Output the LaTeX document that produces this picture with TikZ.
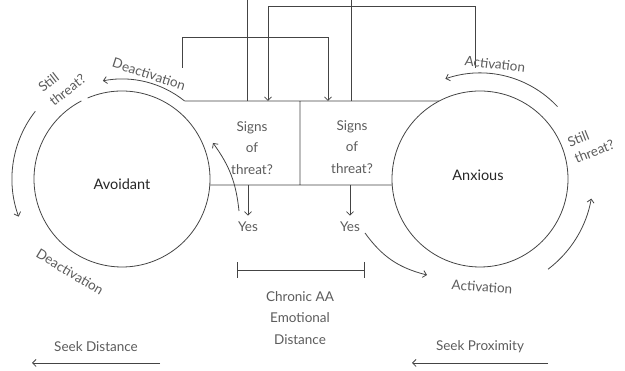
\documentclass[tikz,border=0pt]{standalone}
\usepackage{fontspec}
\setmainfont{Lato}
\usetikzlibrary{arrows.meta}
\definecolor{ink}{HTML}{444444}
\definecolor{txt}{HTML}{5C5C5C}
\begin{document}
\begin{tikzpicture}[x=1pt, y=1pt, font=\fontsize{13.5}{15}\selectfont, >={Straight Barb[length=3.5pt,width=7pt]},
	line width=0.8pt, color=ink,
	lbl/.style={text=txt, inner sep=0pt},
	stack/.style={lbl, align=center, font=\fontsize{13.5}{21.5}\selectfont},
	pair/.style={lbl, align=left, font=\fontsize{13.5}{18}\selectfont},
	state/.style={text=black!85, font=\fontsize{14.5}{16}\selectfont}]
	\useasboundingbox (0,0) rectangle (625,371);
	\path (122,192) coordinate (L) (480,192) coordinate (R)
	(L) ++(51.3:100) coordinate (T0) (R) ++(117.6:88) coordinate (T1)
	(L) ++(-3.9:88) coordinate (B0) (R) ++(183.9:88) coordinate (B1)
	(300,270) coordinate (M0) (300,186) coordinate (M1);
	% the two states
	\node[state] (avoid) at (122,187) {Avoidant};
	\node[state] (anx) at (478,196) {Anxious};
	\draw (L) ++(117.5:88) arc[start angle=117.5, end angle=473, radius=88];
	\draw (R) circle (88);
	% the threat check boxes
	\draw (T0)--(T1) (B0)--(B1) (M0)--(M1);
	\node[stack] (sL) at (252,223) {Signs\\of\\threat?};
	\node[stack] (sR) at (352,224) {Signs\\of\\threat?};
	% lines from the top
	\path (182,303) coordinate (a1) (182,334) coordinate (a2) (328,334) coordinate (a3)
	(475,303) coordinate (b1) (475,365) coordinate (b2) (268,365) coordinate (b3)
	(247,371) coordinate (c1) (351,371) coordinate (d1);
	\draw[->] (a1)--(a2)--(a3)--(a3 |- M0);
	\draw[->] (b1)--(b2)--(b3)--(b3 |- M0);
	\draw (c1)--(c1 |- M0) (d1)--(d1 |- M0);
	% answers
	\node[lbl] (yL) at (248,144) {Yes};
	\node[lbl] (yR) at (350,144) {Yes};
	\draw[->] (yL |- B0)--([yshift=6pt]yL.north);
	\draw[->] (yR |- B0)--([yshift=6pt]yR.north);
	\path (239,160) coordinate (e1) (213,228) coordinate (e2) (365,138) coordinate (f1) (427,96) coordinate (f2);
	\draw[->] (e1) to[bend right=15] (e2);
	\draw[->] (f1) to[bend right=20] (f2);
	% loops round the states
	\draw[->] (T0) arc[start angle=51.3, end angle=101, radius=100];
	\draw[->] (L) ++(142:110) arc[start angle=142, end angle=200, radius=110];
	\draw[->] (R) ++(-53:113) arc[start angle=-53, end angle=-10, radius=113];
	\draw[->] (R) ++(43:106) arc[start angle=43, end angle=109, radius=106];
	\foreach \n/\p/\r/\t in {dT/{149,297}/-18/Deactivation, dB/{70,99}/-31/Deactivation,
		aT/{495,307}/-7/Activation, aB/{482,84}/-4/Activation}{
		\node[lbl, rotate=\r] (\n) at (\p) {\t};
	}
	\node[pair, rotate=38] (stL) at (62,288) {Still\\threat?};
	\node[pair, rotate=22] (stR) at (591,228) {Still\\threat?};
	% distance between the two
	\draw[{Bar[width=16pt]}-{Bar[width=16pt]}] (237,101) coordinate (g1)--(365,101) coordinate (g2);
	\node[stack] (gap) at (300,53) {Chronic AA\\Emotional\\Distance};
	% what each one seeks
	\node[lbl] (sd) at (96,24) {Seek Distance};
	\node[lbl] (sp) at (480,24) {Seek Proximity};
	\path (160,8) coordinate (h1) (32,8) coordinate (h2) (548,8) coordinate (k1) (412,8) coordinate (k2);
	\draw[->] (h1)--(h2);
	\draw[->] (k1)--(k2);
\end{tikzpicture}
\end{document}
